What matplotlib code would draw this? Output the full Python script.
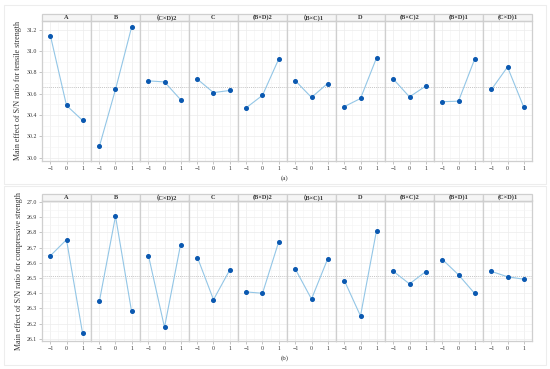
import matplotlib.pyplot as plt
import numpy as np
from matplotlib.patches import Rectangle

plt.rcParams['font.family'] = ['Liberation Serif', 'Noto Sans CJK SC', 'DejaVu Sans']

levels = [-1, 0, 1]
factors = ['A', 'B', '（C×D)2', 'C', '(B×D)2', '（B×C)1', 'D', '(B×C)2', '(B×D)1', '(C×D)1']

# S/N ratio, tensile strength
tensile = [
    [31.14, 30.49, 30.35],
    [30.11, 30.64, 31.22],
    [30.72, 30.71, 30.545],
    [30.735, 30.61, 30.63],
    [30.47, 30.585, 30.92],
    [30.72, 30.565, 30.695],
    [30.48, 30.555, 30.935],
    [30.735, 30.57, 30.67],
    [30.525, 30.53, 30.92],
    [30.64, 30.85, 30.48],
]

# S/N ratio, compressive strength
compressive = [
    [26.647, 26.752, 26.138],
    [26.35, 26.907, 26.282],
    [26.647, 26.175, 26.718],
    [26.634, 26.357, 26.55],
    [26.408, 26.399, 26.734],
    [26.557, 26.361, 26.623],
    [26.481, 26.25, 26.812],
    [26.543, 26.461, 26.541],
    [26.621, 26.521, 26.399],
    [26.543, 26.508, 26.492],
]

line_col = '#93c6e6'
dot_col = '#0a58b0'
frame_col = '#cfcfcf'


def draw_row(fig, data, bottom, top, ylim, yticks, ylabel, tag):
    left, right = 42 / 550, 532 / 550
    w = (right - left) / len(factors)
    h = top - bottom
    mean = np.mean(data)
    first = None
    for i, (name, vals) in enumerate(zip(factors, data)):
        ax = fig.add_axes([left + i * w, bottom, w, h], sharey=first)
        if first is None:
            first = ax
        ax.plot(levels, vals, color=line_col, lw=0.8, zorder=3)
        ax.plot(levels, vals, 'o', color=dot_col, ms=2.6, zorder=4)
        ax.axhline(mean, color='#b0b0b0', lw=0.5, ls=(0, (1.5, 1.5)), zorder=2)
        ax.set_xlim(-1.53, 1.53)
        ax.set_ylim(*ylim)
        ax.set_xticks(levels)
        ax.set_xticklabels(['\u22121', '0', '1'])
        ax.set_xticks([-0.5, 0.5], minor=True)
        ax.grid(True, which='major', color='#ececec', lw=0.5)
        ax.grid(True, which='minor', color='#f4f4f4', lw=0.4)
        for s in ax.spines.values():
            s.set_color(frame_col)
            s.set_linewidth(0.9)
        ax.tick_params(which='both', length=2, width=0.4, color='#999999',
                       labelsize=4.2, labelcolor='#333333', pad=1.5)
        ax.tick_params(which='minor', length=0)
        if i == 0:
            ax.set_yticks(yticks)
            ax.set_yticklabels(['%.1f' % t for t in yticks])
            ax.set_yticks(np.array(yticks[:-1]) + (yticks[1] - yticks[0]) / 2, minor=True)
            ax.set_ylabel(ylabel, fontsize=5.8, color='#333333', labelpad=3)
        else:
            ax.tick_params(axis='y', which='both', left=False, labelleft=False)
        # strip title
        ax.add_patch(Rectangle((0, 1), 1, 0.047, transform=ax.transAxes,
                               facecolor='#f5f5f5', edgecolor=frame_col, lw=0.9,
                               clip_on=False))
        ax.text(0.5, 1.023, name, transform=ax.transAxes, ha='center', va='center',
                fontsize=4.6, fontweight='bold', color='#333333')
    fig.text(0.518, bottom - 0.047, tag, ha='center', va='center', fontsize=5, color='#333333')


fig = plt.figure(figsize=(5.5, 3.69), dpi=100)

# light frames around the two sub-figures
for y0, y1 in [(5, 184), (186, 365)]:
    fig.add_artist(Rectangle((4 / 550, 1 - y1 / 369), 542 / 550, (y1 - y0) / 369,
                             transform=fig.transFigure, facecolor='none',
                             edgecolor='#ededed', lw=0.8))

draw_row(fig, tensile, 1 - 161 / 369, 1 - 20.5 / 369, (29.97, 31.285),
         [30.0, 30.2, 30.4, 30.6, 30.8, 31.0, 31.2],
         'Main effect of S/N ratio for tensile strength', '(a)')
draw_row(fig, compressive, 1 - 341 / 369, 1 - 200.5 / 369, (26.085, 27.01),
         [26.1, 26.2, 26.3, 26.4, 26.5, 26.6, 26.7, 26.8, 26.9, 27.0],
         'Main effect of S/N ratio for compressive strength', '(b)')

fig.savefig('out.png', dpi=100)
